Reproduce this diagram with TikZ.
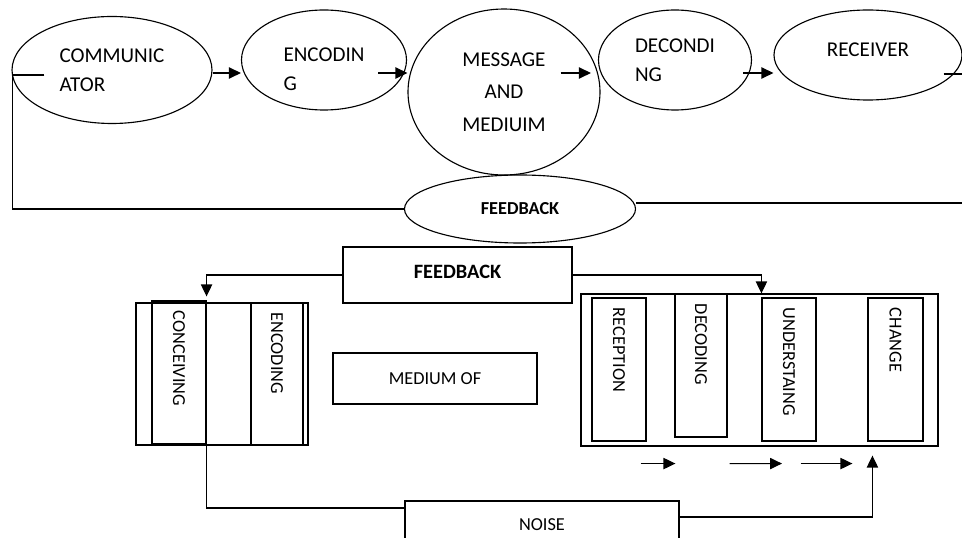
\documentclass[tikz,border=0pt]{standalone}
\usepackage{fontspec}
\setmainfont{Carlito}
\usepackage{graphicx}
\usepackage{tikz}
\usetikzlibrary{positioning, arrows.meta, shapes.geometric, calc}

\newdimen\px \px=0.025cm
\newcommand{\vtxt}[1]{\rotatebox{-90}{\makebox[123\px][l]{#1}}\hspace{14\px}}

\begin{document}
\begin{tikzpicture}[x=\px, y=-\px,
    oval/.style={ellipse, draw=black, line width=0.8pt, inner sep=0pt, align=left,
                 font=\fontsize{15}{21}\selectfont},
    box/.style={rectangle, draw=black, line width=0.8pt, inner sep=0pt, align=center,
                font=\fontsize{13}{16}\selectfont},
    vbox/.style={rectangle, draw=black, line width=0.8pt, inner sep=0pt,
                 minimum width=54\px, minimum height=143\px, font=\fontsize{13}{16}\selectfont},
    arrow/.style={-{Triangle[length=8.5pt, width=8pt]}, line width=0.8pt},
    link/.style={line width=0.8pt}
]
    \useasboundingbox (0,0) rectangle (962,538);

    % Top chain
    \node[oval, minimum width=200\px, minimum height=107\px] (comm) at (112,70) {COMMUNIC\\ATOR};
    \node[oval, minimum width=165\px, minimum height=100\px] (enc) at (324,60) {\rule{0pt}{23pt}ENCODIN\\G};
    \node[oval, minimum width=192\px, minimum height=166\px, align=center,
          font=\fontsize{15}{23}\selectfont] (msg) at (504,92) {MESSAGE\\AND\\MEDIUIM};
    \node[oval, minimum width=153\px, minimum height=100\px] (dec) at (675,60) {DECONDI\\NG};
    \node[oval, minimum width=188\px, minimum height=90\px] (rec) at (868,55) {RECEIVER\rule[-7pt]{0pt}{7pt}};

    % Feedback oval
    \node[oval, minimum width=231\px, minimum height=68\px,
          font=\bfseries\fontsize{13}{16}\selectfont] (fbo) at (520,209) {FEEDBACK};

    % Feedback box
    \node[box, minimum width=229\px, minimum height=56\px,
          font=\bfseries\fontsize{14.5}{17}\selectfont] (fbr) at (457.5,275) {FEEDBACK\rule[-5pt]{0pt}{5pt}};

    % Sender side
    \node[box, minimum width=172\px, minimum height=142\px] (lbox) at (222,374) {};
    \node[vbox] (conc) at (179,372.5) {\vtxt{CONCEIVING}};
    \node[vbox, minimum width=52\px] (lenc) at (277,374) {\vtxt{ENCODING}};

    % Medium
    \node[box, minimum width=204\px, minimum height=51\px] (med) at (435,378.5) {MEDIUM OF};

    % Receiver side
    \node[box, minimum width=357\px, minimum height=152\px] (rbox) at (759.5,370) {};
    \node[vbox] (rcp) at (619,369.5) {\vtxt{RECEPTION}};
    \node[vbox, minimum width=52\px] (dcd) at (701,365.5) {\vtxt{DECODING}};
    \node[vbox] (und) at (789,369.5) {\vtxt{UNDERSTAING}};
    \node[vbox, minimum width=55\px] (chg) at (895.5,369.5) {\vtxt{CHANGE}};

    % Noise
    \node[box, minimum width=274\px, minimum height=48\px] (noise) at (542,525) {NOISE};

    % Arrows
    \coordinate (row) at (0,73);
    \coordinate (redge) at (962,203);
    \draw[arrow] (comm.east |- row) -- (enc.west |- row);
    \draw[arrow] ($(enc.east |- row)+(-29,0)$) -- (msg.west |- row);
    \draw[arrow] ($(msg.east |- row)+(-40,0)$) -- ($(dec.west |- row)+(-7,0)$);
    \draw[arrow] ($(dec.east |- row)+(-9,0)$) -- (rec.west |- row);

    \draw[link] ($(comm.west)+(33,5)$) -- ++(-32,0) |- (fbo.west);
    \draw[link] ($(fbo.east)+(0,-6)$) -- (redge);
    \draw[link] ($(rec.east)+(-19,19)$) -- ++(19,0);

    \draw[arrow, shorten >=4\px] (fbr.west) -| (conc.north east);
    \draw[arrow] (fbr.east) -| (und.north west |- rbox.north);

    \draw[link] (conc.south east) |- ($(noise.west)+(0,-17)$);
    \draw[arrow, shorten >=9\px] ($(noise.east)+(0,-8)$) -| ($(chg.south west |- rbox.south)+(5,0)$);

    \draw[arrow] ($(rcp.south east |- rbox.south)+(-6,17)$) -- ($(dcd.south west |- rbox.south)+(1,17)$);
    \draw[arrow] ($(dcd.south east |- rbox.south)+(2,17)$) -- ($(und.south)+(-7,22)$);
    \draw[arrow] ($(und.south east)+(-16,22)$) -- ($(chg.south west)+(-15,22)$);

\end{tikzpicture}
\end{document}
